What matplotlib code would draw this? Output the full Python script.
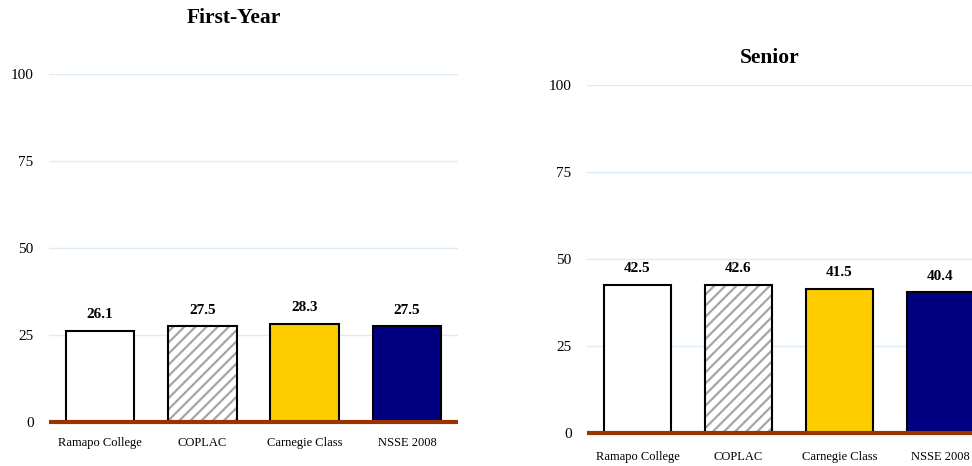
import matplotlib.pyplot as plt

plt.rcParams['font.family'] = ['Liberation Serif', 'DejaVu Serif']
plt.rcParams['hatch.linewidth'] = 1.6

categories = ['Ramapo College', 'COPLAC', 'Carnegie Class', 'NSSE 2008']
first_year = [26.1, 27.5, 28.3, 27.5]
senior = [42.5, 42.6, 41.5, 40.4]
y_ticks = [0, 25, 50, 75, 100]

fills = ['white', 'white', '#FFCC00', '#000080']
hatches = [None, '///', None, None]

W, H = 972, 466
fig = plt.figure(figsize=(W / 100, H / 100), dpi=100)


def px_axes(left, right, y0, y100):
    # axes rectangle given in pixel coords (y measured from top)
    return fig.add_axes([left / W, (H - y0) / H, (right - left) / W, (y0 - y100) / H])


def draw_panel(ax, values, label_pad):
    x = range(len(categories))
    for i, v in enumerate(values):
        if hatches[i]:
            ax.bar(i, v, width=0.67, color='white', edgecolor='#A6A6A6',
                   hatch=hatches[i], linewidth=0, zorder=2)
            ax.bar(i, v, width=0.67, fill=False, edgecolor='black',
                   linewidth=1.5, zorder=3)
        else:
            ax.bar(i, v, width=0.67, color=fills[i], edgecolor='black',
                   linewidth=1.5, zorder=3)
        ax.annotate(f'{v:.1f}', (i, v), xytext=(0, 7), textcoords='offset points',
                    ha='center', va='bottom', fontsize=11, fontweight='bold')
    ax.axhline(0, color='#993300', linewidth=3, zorder=4, clip_on=False,
               solid_capstyle='butt')
    ax.set_xlim(-0.5, len(categories) - 0.5)
    ax.set_ylim(0, 100)
    ax.set_yticks(y_ticks)
    ax.yaxis.grid(True, color='#DDEBF7', linewidth=1)
    ax.set_axisbelow(True)
    ax.set_xticks(list(x))
    ax.set_xticklabels(categories, fontsize=9)
    ax.tick_params(axis='x', length=0, pad=label_pad)
    ax.tick_params(axis='y', length=0, pad=11, labelsize=11)
    for s in ax.spines.values():
        s.set_visible(False)


ax1 = px_axes(49, 458, 422, 74)
draw_panel(ax1, first_year, 11)

ax2 = px_axes(587, 991, 433, 85)
draw_panel(ax2, senior, 13)

fig.text(234 / W, 1 - 18 / H, 'First-Year', ha='center', va='center',
         fontsize=15.5, fontweight='bold')
fig.text(770 / W, 1 - 58 / H, 'Senior', ha='center', va='center',
         fontsize=15.5, fontweight='bold')

fig.savefig('out.png', dpi=100)
